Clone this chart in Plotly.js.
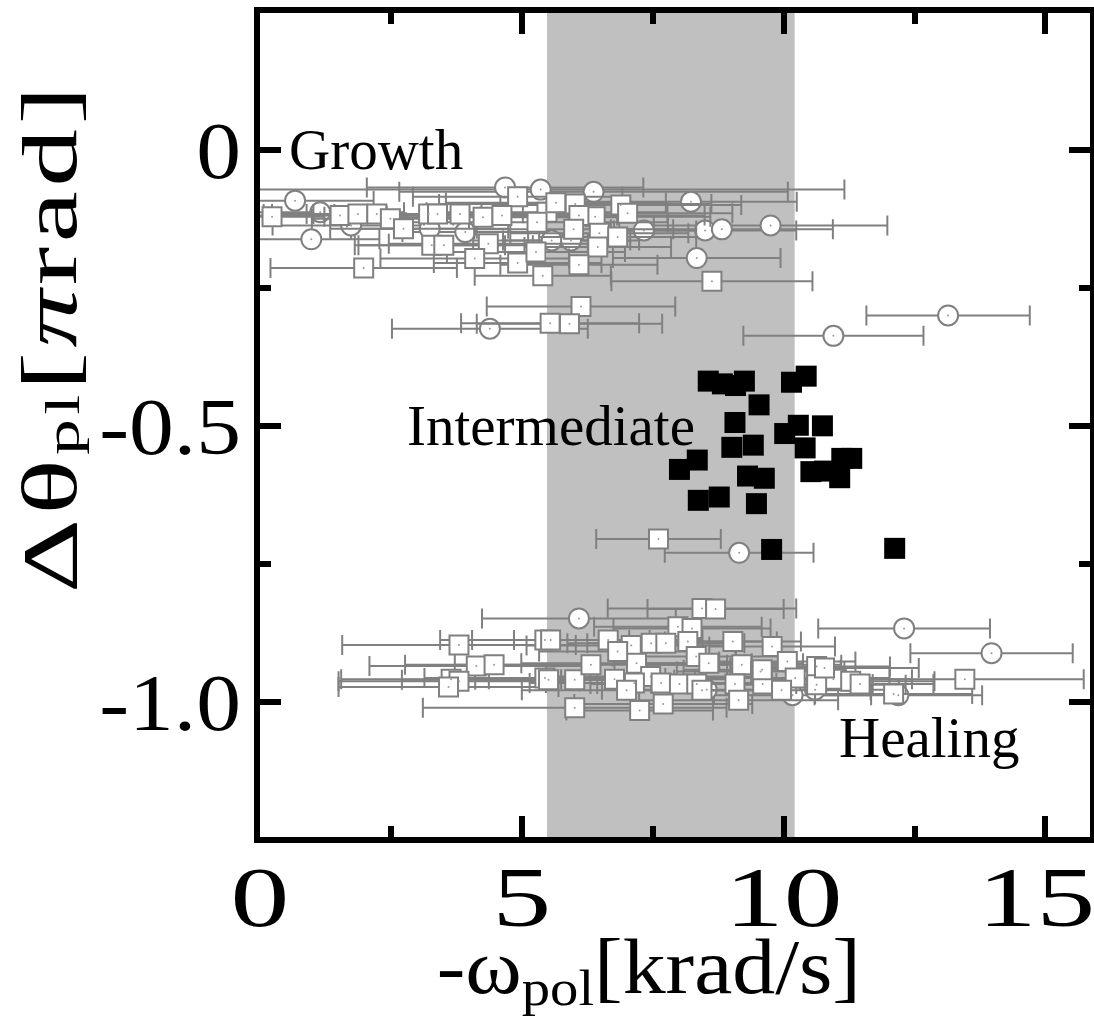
<!DOCTYPE html>
<html>
<head>
<meta charset="utf-8">
<script src="https://cdn.plot.ly/plotly-3.0.1.min.js"></script>
<style>
  html, body { margin: 0; padding: 0; background: #fff; }
  #chart { width: 1094px; height: 1017px; }
</style>
</head>
<body>
<div id="chart"></div>
<script>
// Open circles: -omega_pol (krad/s), delta theta (pi rad), error in omega
const circX   = [0.67, 1.15, 0.98, 1.74, 4.68, 5.36, 6.37, 8.23, 8.50, 8.82, 9.75, 8.34, 7.33, 3.92, 4.39, 5.57, 3.24, 10.95, 13.14, 5.94,
                 6.09, 12.30, 13.97, 10.17, 10.60, 12.19, 9.15, 8.53];
const circY   = [-0.092, -0.113, -0.162, -0.137, -0.068, -0.072, -0.076, -0.094, -0.146, -0.144, -0.137, -0.196, -0.146, -0.149, -0.324, -0.164, -0.143, -0.337, -0.300, -0.164,
                 -0.849, -0.867, -0.912, -0.988, -0.978, -0.988, -0.730, -0.978];
const circErr = [1.5, 1.6, 1.3, 1.5, 2.64, 5.8, 3.71, 2.02, 1.74, 2.12, 2.23, 1.60, 1.0, 1.2, 1.87, 1.5, 1.5, 1.72, 1.56, 1.3,
                 1.85, 1.64, 1.55, 1.5, 1.6, 1.6, 1.42, 2.0];

// Open squares
const sqX   = [0.23, 1.53, 1.87, 2.23, 2.49, 2.74, 3.22, 3.39, 3.28, 3.51, 3.82, 4.26, 4.36, 4.10, 4.92, 5.27, 5.40, 1.98, 5.48, 5.65,
               6.02, 6.89, 7.02, 6.40, 6.09, 5.29, 5.99, 6.48, 6.83, 6.45, 6.09, 8.63, 6.13, 5.54, 5.91, 4.92, 4.62,
               3.80, 4.13, 4.47, 3.65, 3.80, 3.60, 5.44, 5.44, 8.44, 8.70, 7.98, 8.25, 5.55, 6.65, 7.09, 7.47, 7.75, 8.17, 9.03, 9.78,
               8.33, 8.57, 7.19, 9.20, 10.07, 9.56, 6.83, 6.01, 6.77, 7.46, 7.66, 8.01, 8.34, 9.07, 9.60, 10.22, 5.51, 7.25, 7.70, 9.14,
               6.01, 7.15, 10.63, 9.59, 10.95, 11.28, 11.46, 10.63, 13.46, 12.10, 7.61, 6.32, 7.00, 8.44, 9.96, 10.78];
const sqY   = [-0.121, -0.119, -0.116, -0.116, -0.125, -0.143, -0.116, -0.116, -0.173, -0.173, -0.116, -0.122, -0.170, -0.197, -0.205, -0.185, -0.228, -0.214, -0.113, -0.096,
               -0.098, -0.100, -0.115, -0.121, -0.119, -0.131, -0.144, -0.151, -0.158, -0.176, -0.208, -0.238, -0.284, -0.314, -0.315, -0.085, -0.119,
               -0.897, -0.935, -0.933, -0.959, -0.963, -0.973, -0.888, -0.957, -0.831, -0.832, -0.864, -0.867, -0.888, -0.888, -0.898, -0.894, -0.894, -0.891, -0.891, -0.900,
               -0.918, -0.930, -0.930, -0.933, -0.927, -0.945, -0.909, -0.960, -0.959, -0.954, -0.966, -0.968, -0.968, -0.968, -0.968, -0.957, -0.960, -1.016, -1.004, -0.997,
               -1.011, -0.966, -0.936, -0.942, -0.959, -0.963, -0.968, -0.969, -0.959, -0.986, -0.705, -0.933, -0.979, -0.979, -0.979, -0.939];
const sqErr = [1.0, 1.6, 1.8, 2.0, 1.5, 1.4, 2.2, 2.5, 1.4, 1.7, 2.4, 2.6, 1.9, 1.8, 1.6, 1.7, 1.3, 1.78, 2.3, 2.1,
               2.6, 2.3, 2.0, 2.2, 2.4, 2.5, 1.9, 1.7, 1.5, 1.4, 1.5, 1.92, 1.8, 1.7, 1.77, 2.0, 2.2,
               2.23, 2.04, 1.7, 2.1, 2.3, 2.1, 2.0, 2.3, 1.8, 1.3, 1.6, 1.5, 1.5, 1.8, 2.0, 1.6, 1.5, 1.7, 1.3, 1.2,
               1.6, 1.8, 2.2, 1.9, 1.3, 1.6, 1.5, 1.9, 2.4, 2.0, 2.2, 1.7, 1.9, 1.6, 2.1, 1.8, 2.8, 1.4, 1.7, 1.9,
               2.9, 2.0, 1.4, 1.5, 1.5, 1.6, 1.4, 1.7, 2.27, 1.5, 1.19, 2.6, 2.0, 1.5, 1.7, 1.8];

// Intermediate state: filled squares
const interX = [8.56, 8.83, 9.08, 9.25, 10.15, 10.43, 9.53, 9.07, 10.02, 10.28, 10.74, 10.41, 9.01, 9.42, 8.35, 8.01, 11.11, 11.30,
                10.52, 10.78, 11.07, 9.31, 9.63, 8.37, 8.77, 9.48, 9.77, 12.12];
const interY = [-0.419, -0.424, -0.427, -0.419, -0.421, -0.410, -0.462, -0.494, -0.514, -0.499, -0.500, -0.540, -0.539, -0.535, -0.562, -0.579, -0.559, -0.559,
                -0.583, -0.582, -0.594, -0.591, -0.595, -0.635, -0.629, -0.641, -0.724, -0.722];

// Shaded band of -omega_pol
const bandX = [5.48, 10.21];

const xTicks = [0, 5, 10, 15];
const xTickText = ['0', '5', '10', '15'];
const yTicks = [0, -0.5, -1.0];
const yTickText = ['0', '-0.5', '-1.0'];

const gray = '#808080';
const serif = 'Liberation Serif, Times New Roman, serif';

function errBar(arr) {
  return { type: 'data', array: arr, visible: true, color: gray, thickness: 2, width: 10 };
}

const traces = [
  {
    x: circX, y: circY, type: 'scatter', mode: 'markers',
    error_x: errBar(circErr),
    marker: { symbol: 'circle', size: 20, color: '#ffffff', line: { color: gray, width: 2 } }
  },
  {
    x: sqX, y: sqY, type: 'scatter', mode: 'markers',
    error_x: errBar(sqErr),
    marker: { symbol: 'square', size: 19, color: '#ffffff', line: { color: gray, width: 2 } }
  },
  {
    x: circX.concat(sqX), y: circY.concat(sqY), type: 'scatter', mode: 'markers',
    marker: { symbol: 'circle', size: 2, color: '#999999' },
    hoverinfo: 'skip'
  },
  {
    x: interX, y: interY, type: 'scatter', mode: 'markers',
    marker: { symbol: 'square', size: 21, color: '#000000', line: { width: 0 } }
  }
];

const axisCommon = {
  showline: true, linecolor: '#000', linewidth: 6, mirror: 'ticks',
  ticks: 'inside', ticklen: 21, tickwidth: 6, tickcolor: '#000',
  showgrid: false, zeroline: false,
  fixedrange: true
};

const minorTicks = (vals) => ({
  tickmode: 'array', tickvals: vals, ticks: 'inside', ticklen: 11, tickwidth: 6, tickcolor: '#000', showgrid: false
});

const layout = {
  width: 1094, height: 1017,
  margin: { l: 260, r: 4, t: 13, b: 180 },
  paper_bgcolor: '#ffffff', plot_bgcolor: '#ffffff',
  showlegend: false,
  xaxis: Object.assign({}, axisCommon, {
    range: [0, 15.85],
    tickmode: 'array', tickvals: xTicks, ticktext: xTickText,
    tickfont: { family: serif, size: 84, color: '#000' },
    ticklabelstandoff: -18,
    minor: minorTicks([2.5, 7.5, 12.5])
  }),
  yaxis: Object.assign({}, axisCommon, {
    range: [-1.245, 0.248],
    tickmode: 'array', tickvals: yTicks, ticktext: yTickText,
    tickfont: { family: serif, size: 80, color: '#000' },
    ticklabelstandoff: -3,
    minor: minorTicks([-0.25, -0.75])
  }),
  shapes: [{
    type: 'rect', xref: 'x', yref: 'paper', x0: bandX[0], x1: bandX[1], y0: 0, y1: 1,
    fillcolor: '#c0c0c0', line: { width: 0 }, layer: 'below'
  }],
  annotations: [
    // axis titles
    { text: '-ω<sub>pol</sub>[krad/s]', xref: 'paper', yref: 'paper', x: 0.469, y: -0.164,
      xanchor: 'center', yanchor: 'middle', showarrow: false, font: { family: serif, size: 78, color: '#000' } },
    { text: 'Δθ<sub>pl</sub>[<i>π</i>rad]', xref: 'paper', yref: 'paper', x: -0.247, y: 0.607, textangle: -90,
      xanchor: 'center', yanchor: 'middle', showarrow: false, font: { family: serif, size: 78, color: '#000' } },
    // regime labels
    { text: 'Growth', x: 0.52, y: 0.0, xanchor: 'left', yanchor: 'middle', showarrow: false, font: { family: serif, size: 57, color: '#000' } },
    { text: 'Intermediate', x: 2.77, y: -0.499, xanchor: 'left', yanchor: 'middle', showarrow: false, font: { family: serif, size: 57, color: '#000' } },
    { text: 'Healing', x: 11.01, y: -1.064, xanchor: 'left', yanchor: 'middle', showarrow: false, font: { family: serif, size: 57, color: '#000' } }
  ]
};

// Stretch text glyphs along their own baseline (wide serif lettering), with an optional nudge
function stretchText(el, sx, anchor, dx) {
  const bb = el.getBBox();
  const cx = anchor === 'end' ? bb.x + bb.width : bb.x + bb.width / 2;
  const prev = el.getAttribute('transform') || '';
  el.setAttribute('transform', prev + ' translate(' + (cx + (dx || 0)) + ',0) scale(' + sx + ',1) translate(' + (-cx) + ',0)');
}

// Pull a subscript closer to the baseline and make it a little smaller
function tightenSubscript(el, shiftPx, sizePct) {
  el.querySelectorAll('tspan').forEach(function (ts) {
    const dy = ts.getAttribute('dy');
    if (!dy) return;
    const v = parseFloat(dy);
    if (v > 0) { ts.setAttribute('dy', String(shiftPx)); ts.style.fontSize = sizePct + '%'; }
    else if (v < 0) { ts.setAttribute('dy', String(-shiftPx)); }
  });
}

Plotly.newPlot('chart', traces, layout, { staticPlot: true, displayModeBar: false }).then(function () {
  const xt = document.querySelectorAll('.xtick text');
  xt.forEach(function (t) {
    const last = t.textContent === xTickText[xTickText.length - 1];
    stretchText(t, 1.4, 'middle', last ? -9 : 0);
  });
  document.querySelectorAll('.ytick text').forEach(t => stretchText(t, 1.12, 'end'));
  const ann = document.querySelectorAll('.annotation text.annotation-text');
  if (ann[0]) {
    tightenSubscript(ann[0], 12, 66);
    stretchText(ann[0], 1.1, 'middle');
  }
  if (ann[1]) {
    tightenSubscript(ann[1], 3, 62);
    ann[1].style.letterSpacing = '3px';
    stretchText(ann[1], 1.48, 'middle');
  }
});
</script>
</body>
</html>
